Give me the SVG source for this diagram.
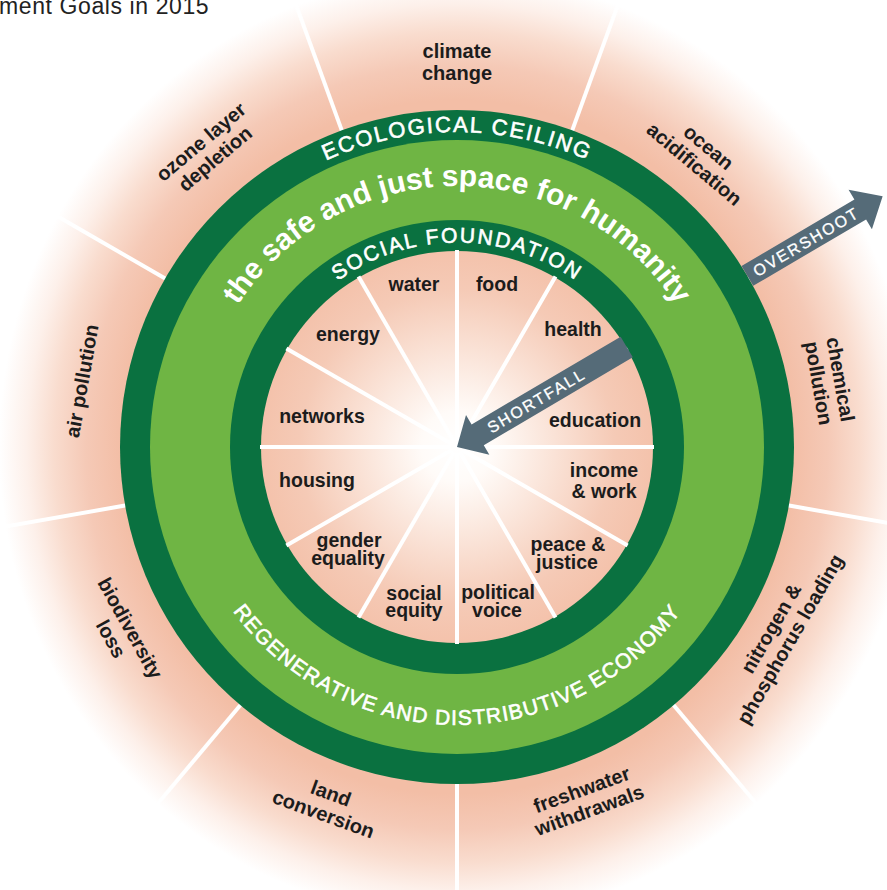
<svg xmlns="http://www.w3.org/2000/svg" width="887" height="890" viewBox="0 0 887 890">
<style>
.lbl{font-family:"Liberation Sans",Arial,sans-serif;font-weight:bold;font-size:19.5px;fill:#1c1c1c;text-anchor:middle}
.out{font-family:"Liberation Sans",Arial,sans-serif;font-weight:bold;font-size:20px;fill:#1c1c1c;text-anchor:middle}
.ring{font-family:"Liberation Sans",Arial,sans-serif;fill:#ffffff;text-anchor:middle}
.caps{stroke:#ffffff;stroke-width:0.6}
.spoke{stroke:#ffffff;stroke-width:4}
.arrow{fill:#556b78}
.atxt{font-family:"Liberation Sans",Arial,sans-serif;font-size:16px;fill:#ffffff;stroke:#ffffff;stroke-width:0.3;text-anchor:middle;letter-spacing:2px}
</style>
<defs>
<radialGradient id="outerG" cx="457" cy="447" r="458" gradientUnits="userSpaceOnUse" gradientTransform="translate(457 447) scale(1 1.03) translate(-457 -447)">
<stop offset="0" stop-color="#f3bea6"/>
<stop offset="0.735" stop-color="#f3bea6"/>
<stop offset="0.81" stop-color="#f5c9b6"/>
<stop offset="0.88" stop-color="#f9dcce"/>
<stop offset="0.94" stop-color="#fdf0ea"/>
<stop offset="1" stop-color="#ffffff"/>
</radialGradient>
<radialGradient id="innerG" cx="457" cy="447" r="197" gradientUnits="userSpaceOnUse">
<stop offset="0" stop-color="#ffffff"/>
<stop offset="0.18" stop-color="#fffbf8"/>
<stop offset="0.5" stop-color="#fae2d6"/>
<stop offset="0.8" stop-color="#f5cab6"/>
<stop offset="1" stop-color="#f4c2ab"/>
</radialGradient>
<path id="ecoPath" d="M 457 762 A 315 315 0 1 1 457 132 A 315 315 0 1 1 457 762"/>
<path id="socPath" d="M 457 651.5 A 204.5 204.5 0 1 1 457 242.5 A 204.5 204.5 0 1 1 457 651.5"/>
<path id="safePath" d="M 457 708 A 261 261 0 1 1 457 186 A 261 261 0 1 1 457 708"/>
<path id="regPath" d="M 457 169 A 278 278 0 1 0 457 725 A 278 278 0 1 0 457 169"/>
</defs>

<g id="background">
<rect x="0" y="0" width="887" height="890" fill="url(#outerG)"/>
<g transform="translate(457 447)">
<line class="spoke" x1="330" y1="0" x2="470" y2="0" transform="rotate(10)"/>
<line class="spoke" x1="330" y1="0" x2="470" y2="0" transform="rotate(50)"/>
<line class="spoke" x1="330" y1="0" x2="470" y2="0" transform="rotate(90)"/>
<line class="spoke" x1="330" y1="0" x2="470" y2="0" transform="rotate(130)"/>
<line class="spoke" x1="330" y1="0" x2="470" y2="0" transform="rotate(170)"/>
<line class="spoke" x1="330" y1="0" x2="470" y2="0" transform="rotate(210)"/>
<line class="spoke" x1="330" y1="0" x2="470" y2="0" transform="rotate(250)"/>
<line class="spoke" x1="330" y1="0" x2="470" y2="0" transform="rotate(290)"/>
<line class="spoke" x1="330" y1="0" x2="470" y2="0" transform="rotate(330)"/>
</g>
</g>

<g id="caption">
<text x="-1" y="13.5" font-family="'Liberation Sans',Arial,sans-serif" font-size="23" fill="#222222" letter-spacing="0.6">ment Goals in 2015</text>
</g>

<g id="ecological-ceiling">
<circle cx="457" cy="447" r="337" fill="#0a7140"/>
<text class="ring caps" font-size="22" letter-spacing="1.9"><textPath href="#ecoPath" startOffset="50%">ECOLOGICAL CEILING</textPath></text>
</g>

<g id="safe-space">
<circle cx="457" cy="447" r="307" fill="#6fb544"/>
<text class="ring" font-size="30" font-weight="bold"><textPath href="#safePath" startOffset="50%">the safe and just space for humanity</textPath></text>
<text class="ring caps" font-size="21" letter-spacing="1.2"><textPath href="#regPath" startOffset="50%">REGENERATIVE AND DISTRIBUTIVE ECONOMY</textPath></text>
</g>

<g id="social-foundation">
<circle cx="457" cy="447" r="227" fill="#0a7140"/>
<text class="ring caps" font-size="21" letter-spacing="2.1"><textPath href="#socPath" startOffset="50%">SOCIAL FOUNDATION</textPath></text>
</g>

<g id="inner-disk">
<circle cx="457" cy="447" r="196" fill="url(#innerG)"/>
<g transform="translate(457 447)">
<line class="spoke" x1="6" y1="0" x2="197" y2="0" transform="rotate(0)"/>
<line class="spoke" x1="6" y1="0" x2="197" y2="0" transform="rotate(30)"/>
<line class="spoke" x1="6" y1="0" x2="197" y2="0" transform="rotate(60)"/>
<line class="spoke" x1="6" y1="0" x2="197" y2="0" transform="rotate(90)"/>
<line class="spoke" x1="6" y1="0" x2="197" y2="0" transform="rotate(120)"/>
<line class="spoke" x1="6" y1="0" x2="197" y2="0" transform="rotate(150)"/>
<line class="spoke" x1="6" y1="0" x2="197" y2="0" transform="rotate(180)"/>
<line class="spoke" x1="6" y1="0" x2="197" y2="0" transform="rotate(210)"/>
<line class="spoke" x1="6" y1="0" x2="197" y2="0" transform="rotate(240)"/>
<line class="spoke" x1="6" y1="0" x2="197" y2="0" transform="rotate(270)"/>
<line class="spoke" x1="6" y1="0" x2="197" y2="0" transform="rotate(300)"/>
<line class="spoke" x1="6" y1="0" x2="197" y2="0" transform="rotate(330)"/>
</g>
</g>

<g id="social-labels">
<g id="water"><text class="lbl" x="414" y="291">water</text></g>
<g id="food"><text class="lbl" x="497" y="291">food</text></g>
<g id="health"><text class="lbl" x="573" y="336">health</text></g>
<g id="education"><text class="lbl" x="595" y="427">education</text></g>
<g id="income-work"><text class="lbl" x="604" y="477">income</text><text class="lbl" x="604" y="498">&amp; work</text></g>
<g id="peace-justice"><text class="lbl" x="568" y="551">peace &amp;</text><text class="lbl" x="567" y="569">justice</text></g>
<g id="political-voice"><text class="lbl" x="498" y="599">political</text><text class="lbl" x="497" y="617">voice</text></g>
<g id="social-equity"><text class="lbl" x="414" y="600">social</text><text class="lbl" x="414" y="617">equity</text></g>
<g id="gender-equality"><text class="lbl" x="349" y="547">gender</text><text class="lbl" x="348" y="565">equality</text></g>
<g id="housing"><text class="lbl" x="317" y="487">housing</text></g>
<g id="networks"><text class="lbl" x="322" y="423">networks</text></g>
<g id="energy"><text class="lbl" x="348" y="341">energy</text></g>
</g>

<g id="ecological-labels">
<g id="climate-change" transform="translate(457 447) rotate(-90) translate(384 0) rotate(90)"><text class="out"><tspan x="0" y="-5.5">climate</tspan><tspan x="0" y="16.5">change</tspan></text></g>
<g id="ocean-acidification" transform="translate(457 447) rotate(-50) translate(379 0) rotate(90)"><text class="out"><tspan x="0" y="-5.5">ocean</tspan><tspan x="0" y="16.5">acidification</tspan></text></g>
<g id="chemical-pollution" transform="translate(457 447) rotate(-10) translate(377 0) rotate(90)"><text class="out"><tspan x="0" y="-5.5">chemical</tspan><tspan x="0" y="16.5">pollution</tspan></text></g>
<g id="nitrogen-phosphorus" transform="translate(457 447) rotate(30) translate(375 0) rotate(-90)"><text class="out"><tspan x="0" y="-5.5">nitrogen &amp;</tspan><tspan x="0" y="16.5">phosphorus loading</tspan></text></g>
<g id="freshwater-withdrawals" transform="translate(457 447) rotate(70) translate(377 0) rotate(-90)"><text class="out"><tspan x="0" y="-5.5">freshwater</tspan><tspan x="0" y="16.5">withdrawals</tspan></text></g>
<g id="land-conversion" transform="translate(457 447) rotate(110) translate(381 0) rotate(-90)"><text class="out"><tspan x="0" y="-5.5">land</tspan><tspan x="0" y="16.5">conversion</tspan></text></g>
<g id="biodiversity-loss" transform="translate(457 447) rotate(151) translate(386 0) rotate(-90)"><text class="out"><tspan x="0" y="-5.5">biodiversity</tspan><tspan x="0" y="16.5">loss</tspan></text></g>
<g id="air-pollution" transform="translate(457 447) rotate(190) translate(380 0) rotate(90)"><text class="out"><tspan x="0" y="6">air pollution</tspan></text></g>
<g id="ozone-depletion" transform="translate(457 447) rotate(-130) translate(386 0) rotate(90)"><text class="out"><tspan x="0" y="-5.5">ozone layer</tspan><tspan x="0" y="16.5">depletion</tspan></text></g>
</g>

<g id="connectors" transform="translate(457 447) rotate(-30.5)">
<g id="overshoot">
<polygon class="arrow" points="337,-11.5 468,-11.5 468,-23 494,0 468,23 468,11.5 337,11.5"/>
<text class="atxt" x="405" y="6">OVERSHOOT</text>
</g>
<g id="shortfall">
<polygon class="arrow" points="197,-12 24,-12 24,-23 0,0 24,23 24,12 197,12"/>
<text class="atxt" x="92" y="6">SHORTFALL</text>
</g>
</g>
</svg>
